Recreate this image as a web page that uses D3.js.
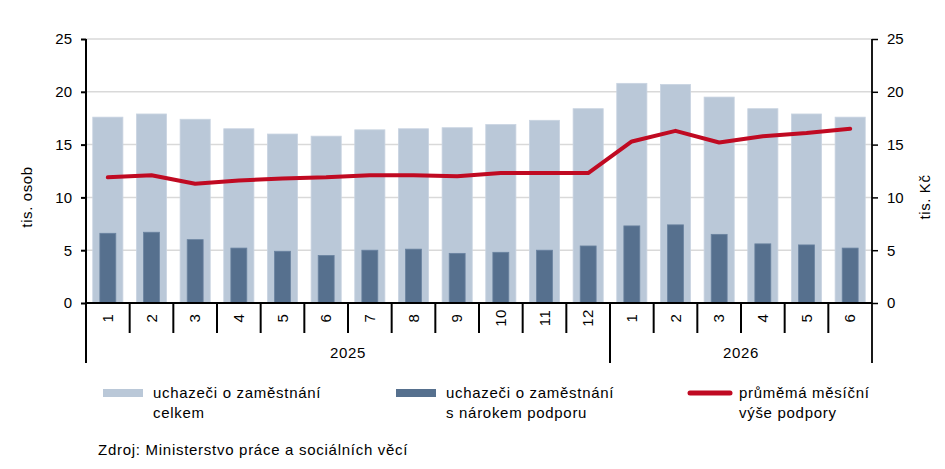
<!DOCTYPE html>
<html>
<head>
<meta charset="utf-8">
<script src="https://cdn.jsdelivr.net/npm/d3@7"></script>
<style>
  html, body { margin: 0; padding: 0; background: #fff; }
  svg { display: block; font-family: "Liberation Sans", Arial, sans-serif; }
</style>
</head>
<body>
<svg id="chart" width="945" height="469"></svg>
<script>
// ---- data ----
const months = ["1","2","3","4","5","6","7","8","9","10","11","12","1","2","3","4","5","6"];
const years = ["2025", "2026"];
const yearCounts = [12, 6];
const totalApplicants = [17.6,17.9,17.4,16.5,16.0,15.8,16.4,16.5,16.6,16.9,17.3,18.4,20.8,20.7,19.5,18.4,17.9,17.6];
const entitledApplicants = [6.6,6.7,6.0,5.2,4.9,4.5,5.0,5.1,4.7,4.8,5.0,5.4,7.3,7.4,6.5,5.6,5.5,5.2];
const avgBenefit = [11.9,12.1,11.3,11.6,11.8,11.9,12.1,12.1,12.0,12.3,12.3,12.3,15.3,16.3,15.2,15.8,16.1,16.5];
const yTicks = [0,5,10,15,20,25];
const legendLabels = [["uchazeči o zaměstnání","celkem"],["uchazeči o zaměstnání","s nárokem podporu"],["průměmá měsíční","výše podpory"]];
const sourceText = "Zdroj: Ministerstvo práce a sociálních věcí";

// ---- layout ----
const pL = 86, pR = 872, pT = 39, pB = 303;
const colLight = "#bac8d8", colDark = "#56708e", colRed = "#c00a22";
const svg = d3.select("#chart");

const x = d3.scaleBand().domain(d3.range(months.length)).range([pL, pR]).padding(0);
const yL = d3.scaleLinear().domain([0, 25]).range([pB, pT]);
const yR = d3.scaleLinear().domain([0, 25]).range([pB, pT]);
const bw = x.bandwidth();

// gridlines
svg.append("g").selectAll("line").data(yTicks.filter(d => d > 0)).join("line")
  .attr("x1", pL).attr("x2", pR)
  .attr("y1", d => yL(d)).attr("y2", d => yL(d))
  .attr("stroke", "#d9d9d9").attr("stroke-width", 1.5);

// light bars
const wL = bw * 0.69;
svg.append("g").selectAll("rect").data(totalApplicants).join("rect")
  .attr("x", (d, i) => x(i) + (bw - wL) / 2)
  .attr("width", wL)
  .attr("y", d => yL(d))
  .attr("height", d => yL(0) - yL(d))
  .attr("fill", colLight)
  .attr("stroke", "#c9d4e1").attr("stroke-width", 0.8);

// dark bars
const wD = bw * 0.365;
svg.append("g").selectAll("rect").data(entitledApplicants).join("rect")
  .attr("x", (d, i) => x(i) + (bw - wD) / 2)
  .attr("width", wD)
  .attr("y", d => yL(d))
  .attr("height", d => yL(0) - yL(d))
  .attr("fill", colDark)
  .attr("stroke", "#6a83a0").attr("stroke-width", 0.8);

// line
const line = d3.line().x((d, i) => x(i) + bw / 2).y(d => yR(d));
svg.append("path").datum(avgBenefit)
  .attr("d", line)
  .attr("fill", "none").attr("stroke", colRed).attr("stroke-width", 4)
  .attr("stroke-linejoin", "round").attr("stroke-linecap", "round");

// left axis
const axL = d3.axisLeft(yL).tickValues(yTicks).tickSize(5).tickPadding(9);
const gL = svg.append("g").attr("transform", `translate(${pL},0)`).call(axL);
gL.select(".domain").remove();
gL.selectAll(".tick line").attr("stroke", "#000").attr("stroke-width", 2);
gL.selectAll(".tick text").attr("font-size", 15).attr("fill", "#000")
  .attr("font-family", "Liberation Sans, Arial, sans-serif");

// right axis
const axR = d3.axisRight(yR).tickValues(yTicks).tickSize(6).tickPadding(9);
const gR = svg.append("g").attr("transform", `translate(${pR},0)`).call(axR);
gR.select(".domain").remove();
gR.selectAll(".tick line").attr("stroke", "#000").attr("stroke-width", 1.5);
gR.selectAll(".tick text").attr("font-size", 15).attr("fill", "#000")
  .attr("font-family", "Liberation Sans, Arial, sans-serif");

// axis lines
svg.append("line").attr("x1", pL).attr("x2", pL).attr("y1", pT).attr("y2", 363)
  .attr("stroke", "#000").attr("stroke-width", 2);
svg.append("line").attr("x1", pR).attr("x2", pR).attr("y1", pT).attr("y2", 363)
  .attr("stroke", "#000").attr("stroke-width", 1.8);
svg.append("line").attr("x1", pL).attr("x2", pR).attr("y1", pB).attr("y2", pB)
  .attr("stroke", "#000").attr("stroke-width", 2);

// month separators
svg.append("g").selectAll("line").data(d3.range(1, months.length)).join("line")
  .attr("x1", i => x(i)).attr("x2", i => x(i))
  .attr("y1", pB).attr("y2", 333)
  .attr("stroke", "#000").attr("stroke-width", 2);

// month labels (rotated)
svg.append("g").selectAll("text").data(months).join("text")
  .attr("transform", (d, i) => `translate(${x(i) + bw / 2 + 5},318) rotate(-90)`)
  .attr("text-anchor", "middle")
  .attr("font-size", 15).attr("letter-spacing", 0.5)
  .text(d => d);

// year separators & labels
let acc = 0;
const yearStarts = yearCounts.map(c => { const s = acc; acc += c; return s; });
svg.append("g").selectAll("line").data(yearStarts.slice(1)).join("line")
  .attr("x1", s => x(s)).attr("x2", s => x(s))
  .attr("y1", pB).attr("y2", 363)
  .attr("stroke", "#000").attr("stroke-width", 2);
svg.append("g").selectAll("text").data(years).join("text")
  .attr("x", (d, k) => {
    const a = x(yearStarts[k]);
    const b = yearStarts[k] + yearCounts[k] < months.length ? x(yearStarts[k] + yearCounts[k]) : pR;
    return (a + b) / 2;
  })
  .attr("y", 358)
  .attr("text-anchor", "middle")
  .attr("font-size", 15).attr("letter-spacing", 0.6)
  .text(d => d);

// axis titles
svg.append("text").attr("transform", "translate(32,197) rotate(-90)")
  .attr("text-anchor", "middle").attr("font-size", 15).attr("letter-spacing", 0.6)
  .text("tis. osob");
svg.append("text").attr("transform", "translate(930,197) rotate(-90)")
  .attr("text-anchor", "middle").attr("font-size", 15).attr("letter-spacing", 0.6)
  .text("tis. Kč");

// legend
const legX = [103, 396, 688];
const legTextX = [153, 446, 739];
legendLabels.forEach((lines, k) => {
  if (k < 2) {
    svg.append("rect").attr("x", legX[k]).attr("y", 389).attr("width", 40).attr("height", 8)
      .attr("fill", k === 0 ? colLight : colDark);
  } else {
    svg.append("line").attr("x1", legX[k] + 2).attr("x2", legX[k] + 42).attr("y1", 393).attr("y2", 393)
      .attr("stroke", colRed).attr("stroke-width", 5).attr("stroke-linecap", "round");
  }
  const t = svg.append("text").attr("font-size", 15).attr("letter-spacing", 0.7);
  lines.forEach((ln, j) => {
    t.append("tspan").attr("x", legTextX[k]).attr("y", 398 + j * 19.5).text(ln);
  });
});

// source
svg.append("text").attr("x", 98).attr("y", 455)
  .attr("font-size", 15).attr("letter-spacing", 0.72)
  .text(sourceText);
</script>
</body>
</html>
